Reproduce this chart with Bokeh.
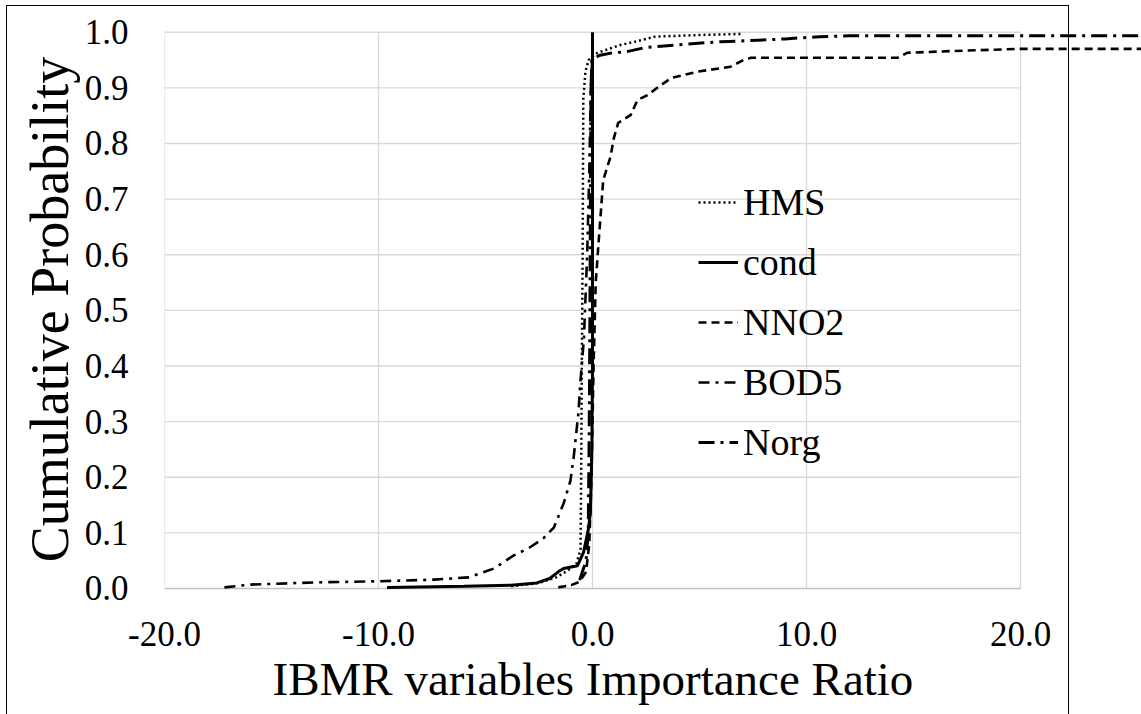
from bokeh.plotting import figure
from bokeh.models import (Range1d, FixedTicker, PrintfTickFormatter, Legend, LegendItem,
                          Title, InlineStyleSheet)
from bokeh.embed import file_html
from bokeh.resources import INLINE

FONT = "Liberation Serif"

# ---- data ----
hms_x = [-3.8, -2.5, -1.7, -1.17, -0.75, -0.56, -0.53, -0.5, -0.46, -0.43, -0.33, -0.18, 0.23, 1.3, 2.1, 2.9, 5.0, 7.0]
hms_y = [0.004, 0.01, 0.02, 0.032, 0.045, 0.07, 0.2, 0.4, 0.6, 0.88, 0.93, 0.95, 0.963, 0.977, 0.984, 0.992, 0.995, 0.997]

cond_x = [-9.6, -6.0, -3.8, -2.6, -2.0, -1.6, -1.35, -0.7, -0.42, -0.2, -0.1, -0.03, 0.0, 0.0]
cond_y = [0.002, 0.004, 0.006, 0.01, 0.018, 0.03, 0.036, 0.041, 0.065, 0.105, 0.135, 0.25, 0.4, 1.0]

nno2_x = [-1.6, -1.0, -0.6, -0.3, -0.15, -0.05, 0.05, 0.15, 0.28, 0.5, 0.84, 1.0, 1.2, 1.78, 2.1, 2.57, 3.2, 3.7,
          4.9, 6.45, 7.05, 7.4, 14.25, 14.7, 16.7, 19.9, 26.0]
nno2_y = [0.002, 0.006, 0.012, 0.03, 0.08, 0.2, 0.4, 0.55, 0.62, 0.734, 0.776, 0.81, 0.837, 0.851, 0.878, 0.887,
          0.905, 0.918, 0.929, 0.938, 0.95, 0.954, 0.954, 0.963, 0.966, 0.97, 0.97]

bod5_x = [-17.2, -16.0, -12.9, -10.0, -7.4, -5.8, -4.6, -3.7, -3.0, -2.3, -1.8, -1.35, -1.03, -0.88, -0.66, -0.56,
          -0.4, -0.25, -0.15, -0.08, 0.0]
bod5_y = [0.002, 0.007, 0.011, 0.013, 0.016, 0.02, 0.036, 0.059, 0.072, 0.09, 0.11, 0.153, 0.194, 0.236, 0.315,
          0.374, 0.45, 0.6, 0.75, 0.9, 0.96]

norg_x = [-0.6, -0.3, -0.2, -0.15, -0.12, -0.1, -0.07, -0.03, 0.3, 0.93, 1.6, 2.4, 3.2, 4.5, 6.0, 7.4, 9.0, 10.6,
          12.0, 26.0]
norg_y = [0.015, 0.05, 0.1, 0.3, 0.5, 0.7, 0.9, 0.95, 0.958, 0.963, 0.965, 0.972, 0.975, 0.979, 0.983, 0.985,
          0.988, 0.992, 0.9935, 0.9935]

x_ticks = [-20, -10, 0, 10, 20]
y_ticks = [0.0, 0.1, 0.2, 0.3, 0.4, 0.5, 0.6, 0.7, 0.8, 0.9, 1.0]

p = figure(width=1141, height=714, output_backend="svg", toolbar_location=None,
           x_range=Range1d(-20, 25.654), y_range=Range1d(-0.0036, 1.0067),
           min_border_left=164, min_border_right=0, min_border_top=28, min_border_bottom=124)
p.outline_line_color = None
p.xgrid.visible = False
p.ygrid.visible = False

# plot-area grid (only within -20..20, 0..1)
gx0, gx1 = x_ticks[0], x_ticks[-1]
p.multi_line([[gx0, gx1] for v in y_ticks[1:]], [[v, v] for v in y_ticks[1:]], line_color="#d9d9d9", line_width=1.3)
p.multi_line([[v, v] for v in x_ticks], [[y_ticks[0], y_ticks[-1]] for v in x_ticks], line_color="#d9d9d9", line_width=1.3)
p.line([gx0, gx1], [y_ticks[0], y_ticks[0]], line_color="#c0c0c0", line_width=1.5)

r_hms = p.line(hms_x, hms_y, line_color="black", line_width=2.5, line_dash="2 3")
r_cond = p.line(cond_x, cond_y, line_color="black", line_width=3)
r_nno2 = p.line(nno2_x, nno2_y, line_color="black", line_width=2.6, line_dash="8 5")
r_bod5 = p.line(bod5_x, bod5_y, line_color="black", line_width=2.6, line_dash="11 6 3 6")
r_norg = p.line(norg_x, norg_y, line_color="black", line_width=3, line_dash="16 6 3 6")

# axes
p.xaxis.ticker = FixedTicker(ticks=x_ticks)
p.yaxis.ticker = FixedTicker(ticks=y_ticks)
p.xaxis.formatter = PrintfTickFormatter(format="%.1f")
p.yaxis.formatter = PrintfTickFormatter(format="%.1f")
for ax in (p.xaxis, p.yaxis):
    ax.axis_line_color = None
    ax.major_tick_line_color = None
    ax.minor_tick_line_color = None
    ax.major_tick_out = 0
    ax.major_tick_in = 0
    ax.major_label_text_font = FONT
    ax.major_label_text_font_size = "35px"
    ax.major_label_text_color = "black"
p.yaxis.major_label_standoff = 36
p.xaxis.major_label_standoff = 31

p.yaxis.axis_label = "Cumulative Probability"
p.yaxis.axis_label_text_font = FONT
p.yaxis.axis_label_text_font_size = "54px"
p.yaxis.axis_label_text_font_style = "normal"
p.yaxis.axis_label_text_color = "black"
p.yaxis.axis_label_standoff = 2

xt = Title(text="IBMR variables Importance Ratio", align="left", offset=108,
           text_font=FONT, text_font_size="47px", text_font_style="normal", text_color="black",
           standoff=5)
p.add_layout(xt, "below")

legend = Legend(items=[LegendItem(label="HMS", renderers=[r_hms]),
                       LegendItem(label="cond", renderers=[r_cond]),
                       LegendItem(label="NNO2", renderers=[r_nno2]),
                       LegendItem(label="BOD5", renderers=[r_bod5]),
                       LegendItem(label="Norg", renderers=[r_norg])],
                location=(534, 118), margin=0, padding=0, spacing=0,
                glyph_width=40, glyph_height=60, label_height=60, label_standoff=5,
                label_text_font=FONT, label_text_font_size="38px", label_text_color="black",
                border_line_alpha=0, background_fill_alpha=0)
p.add_layout(legend)

# outer chart border (open at the bottom, as in the cropped reference)
p.stylesheets = [InlineStyleSheet(css="""
:host { position: relative; overflow: hidden; }
:host::after {
  content: ""; position: absolute; left: 6px; top: 5px; width: 1063px; height: 709px;
  border: 1.5px solid black; border-bottom: none; box-sizing: border-box; pointer-events: none;
}
""")]

open("out.html", "w").write(file_html(p, INLINE))
